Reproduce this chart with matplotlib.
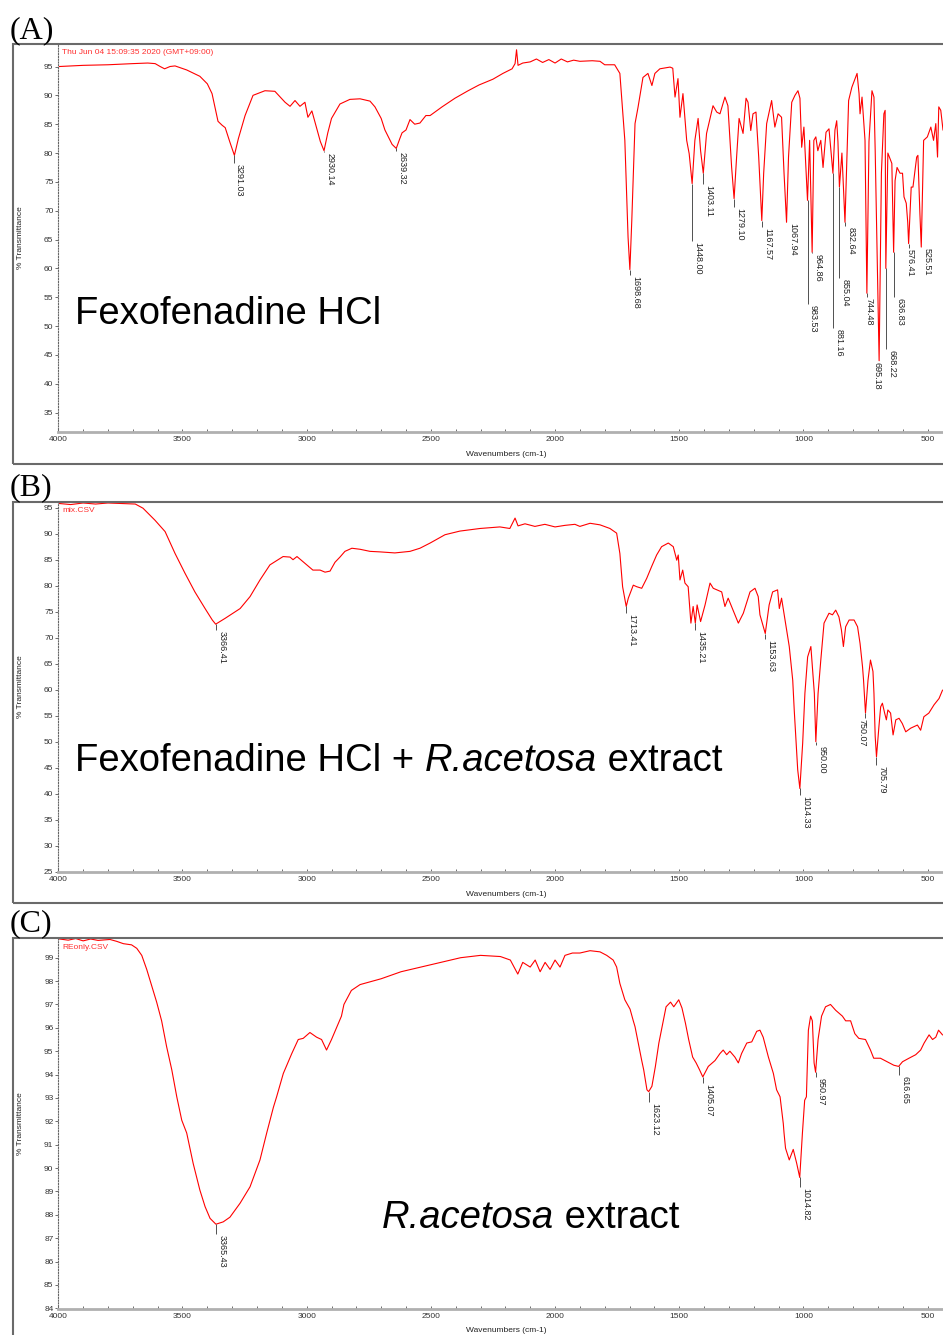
import matplotlib.pyplot as plt
from matplotlib.patches import Rectangle

plt.rcParams['font.family'] = ['Liberation Sans', 'DejaVu Sans']

# ---------------- (A) Fexofenadine HCl ----------------
wn_a = [3995, 3900, 3800, 3700, 3640, 3610, 3590, 3572, 3550, 3530,
        3483, 3430, 3400, 3381, 3357, 3340, 3328, 3310, 3291.03, 3275,
        3248, 3216, 3168, 3128, 3087, 3067, 3047, 3027, 3007, 2995,
        2979, 2963, 2945, 2930.14, 2915, 2900, 2866, 2826, 2785, 2745,
        2725, 2700, 2685, 2656, 2639.32, 2625, 2616, 2600, 2584, 2565,
        2544, 2520, 2503, 2455, 2403, 2350, 2306, 2250, 2210, 2173,
        2161, 2155, 2149, 2130, 2100, 2075, 2050, 2025, 2000, 1975,
        1950, 1925, 1900, 1850, 1819, 1800, 1760, 1739, 1719, 1706,
        1698.68, 1691, 1678, 1666, 1646, 1626, 1610, 1598, 1578, 1537,
        1526, 1517, 1505, 1497, 1485, 1470, 1460, 1448.00, 1437, 1424,
        1414, 1403.11, 1390, 1364, 1349, 1336, 1316, 1304, 1289, 1279.10,
        1269, 1259, 1243, 1231, 1223, 1212, 1203, 1191, 1180, 1167.57,
        1160, 1148, 1128, 1115, 1102, 1088, 1078, 1067.94, 1060, 1047,
        1034, 1022, 1014, 1007, 998, 983.53, 975, 964.86, 958, 950,
        942, 930, 921, 909, 897, 881.16, 873, 866, 861, 855.04,
        845, 832.64, 818, 805, 784, 776, 772, 764, 752, 744.48,
        736, 724, 716, 711, 695.18, 686, 676, 671, 668.22, 660,
        644, 636.83, 631, 623, 611, 601, 595, 586, 580, 576.41,
        566, 559, 544, 539, 531, 525.51, 516, 501, 487, 476,
        467, 460, 455, 447, 438]
t_a = [95.0, 95.2, 95.3, 95.5, 95.6, 95.5, 95.0, 94.6, 95.0, 95.1,
       94.4, 93.3, 92.0, 90.3, 85.5, 84.8, 84.4, 82.0, 79.6, 82.5,
       86.5, 90.0, 90.8, 90.7, 88.8, 88.1, 89.1, 88.1, 88.8, 86.2,
       87.3, 84.8, 82.0, 80.4, 83.5, 86.0, 88.5, 89.3, 89.4, 89.0,
       88.0, 86.0, 84.0, 81.5, 80.8, 82.5, 83.5, 84.0, 85.8, 85.0,
       85.2, 86.5, 86.5, 88.0, 89.5, 90.8, 91.8, 92.8, 93.8, 94.6,
       95.5, 97.9, 95.2, 95.6, 95.8, 96.3, 95.7, 96.2, 95.6, 96.3,
       95.8, 96.1, 95.9, 96.0, 95.9, 95.3, 95.3, 93.8, 82.2, 65.4,
       59.8, 68.3, 85.1, 87.9, 93.1, 93.8, 91.7, 93.8, 94.6, 94.9,
       94.7, 89.7, 92.9, 86.2, 90.3, 82.2, 79.9, 74.7, 82.2, 86.0,
       80.4, 76.5, 83.4, 88.2, 87.1, 86.8, 89.7, 88.2, 77.5, 72.1,
       79.3, 86.0, 83.4, 89.5, 88.8, 83.9, 86.8, 87.1, 79.3, 68.3,
       76.5, 85.1, 89.1, 84.5, 86.8, 86.2, 76.5, 68.0, 79.3, 88.8,
       90.0, 90.8, 89.5, 81.0, 84.5, 71.8, 82.2, 62.8, 82.2, 82.8,
       80.4, 82.2, 77.5, 83.6, 84.2, 76.5, 84.0, 85.6, 82.0, 74.1,
       80.0, 68.0, 89.1, 91.4, 93.8, 90.3, 86.8, 89.7, 82.2, 55.7,
       82.0, 90.8, 89.7, 80.4, 44.0, 76.5, 86.8, 87.4, 60.0, 80.0,
       78.2, 62.8, 75.2, 77.5, 76.5, 76.5, 72.4, 71.3, 68.0, 64.3,
       74.1, 74.1, 79.3, 79.6, 69.5, 63.7, 82.2, 82.8, 84.5, 82.2,
       85.1, 79.3, 88.0, 87.4, 84.0]
peaks_a = [3291.03, 2930.14, 2639.32, 1698.68, 1448.00, 1403.11, 1279.10,
           1167.57, 1067.94, 983.53, 964.86, 881.16, 855.04, 832.64,
           744.48, 695.18, 668.22, 636.83, 576.41, 525.51]
tip_a = [79.6, 80.4, 80.8, 59.8, 74.7, 76.5, 72.1, 68.3, 68.0, 71.8,
         62.8, 76.5, 74.1, 68.0, 55.7, 44.0, 60.0, 62.8, 64.3, 63.7]
labtop_a = [78.2, 80.1, 80.4, 58.8, 64.8, 74.7, 70.6, 67.1, 68.7, 53.75,
            62.6, 49.6, 58.4, 67.4, 55.0, 44.6, 46.1, 55.0, 63.6, 64.5]

# ---------------- (B) mixture ----------------
wn_b = [3995, 3950, 3900, 3850, 3800, 3750, 3690, 3659, 3611, 3570,
        3530, 3490, 3450, 3409, 3380, 3366.41, 3329, 3268, 3228, 3188,
        3148, 3095, 3067, 3055, 3039, 3007, 2975, 2946, 2926, 2906,
        2886, 2866, 2846, 2818, 2785, 2745, 2705, 2645, 2584, 2544,
        2503, 2443, 2383, 2302, 2222, 2182, 2161, 2149, 2121, 2081,
        2041, 2000, 1960, 1920, 1900, 1859, 1819, 1779, 1752, 1739,
        1728, 1713.41, 1705, 1685, 1671, 1651, 1631, 1611, 1591, 1571,
        1544, 1524, 1510, 1504, 1497, 1486, 1477, 1464, 1453, 1444,
        1435.21, 1428, 1414, 1396, 1376, 1363, 1329, 1316, 1303, 1262,
        1242, 1215, 1195, 1182, 1175, 1153.63, 1138, 1124, 1104, 1097,
        1088, 1074, 1057, 1043, 1037, 1023, 1014.33, 1003, 994, 983,
        970, 956, 950.00, 941, 930, 917, 897, 883, 870, 857,
        847, 839, 830, 816, 796, 782, 772, 762, 758, 750.07,
        740, 730, 720, 716, 711, 705.79, 696, 689, 682, 673,
        666, 660, 649, 639, 628, 615, 602, 588, 568, 541,
        528, 515, 495, 474, 454, 440]
t_b = [95.8, 95.6, 95.9, 95.7, 95.9, 95.8, 95.7, 94.9, 92.6, 90.4,
       86.2, 82.4, 78.8, 75.6, 73.4, 72.6, 73.7, 75.6, 77.9, 81.1,
       84.0, 85.6, 85.5, 85.0, 85.6, 84.3, 83.0, 83.0, 82.6, 82.8,
       84.5, 85.5, 86.6, 87.2, 87.0, 86.6, 86.5, 86.3, 86.6, 87.2,
       88.2, 89.8, 90.5, 91.0, 91.3, 91.0, 93.0, 91.5, 91.9, 91.4,
       91.8, 91.3, 91.6, 91.8, 91.4, 92.0, 91.7, 91.0, 90.1, 86.2,
       79.8, 76.0, 77.6, 80.1, 79.8, 79.5, 81.4, 83.7, 85.9, 87.5,
       88.2, 87.5, 84.9, 85.9, 81.1, 83.0, 80.5, 79.8, 72.8, 76.0,
       72.8, 76.3, 73.1, 76.3, 80.5, 79.5, 78.8, 76.0, 77.6, 72.8,
       74.7, 78.8, 79.5, 77.9, 74.4, 70.8, 76.3, 78.8, 79.2, 75.6,
       77.6, 73.4, 68.3, 61.8, 56.1, 44.6, 41.0, 49.7, 59.3, 66.3,
       68.3, 59.3, 50.0, 59.3, 65.7, 72.8, 74.7, 74.4, 75.3, 74.0,
       71.5, 68.3, 72.1, 73.4, 73.4, 72.1, 68.9, 64.4, 61.9, 55.5,
       61.8, 65.7, 63.5, 59.3, 51.0, 47.1, 52.9, 56.7, 57.4, 55.5,
       54.2, 56.1, 55.5, 51.3, 54.2, 54.5, 53.5, 51.9, 52.6, 53.2,
       52.2, 54.8, 55.5, 57.1, 58.3, 59.9]
peaks_b = [3366.41, 1713.41, 1435.21, 1153.63, 1014.33, 950.00, 750.07, 705.79]
tip_b = [72.6, 76.0, 72.8, 70.8, 41.0, 50.0, 55.5, 47.1]
labtop_b = [71.5, 74.75, 71.5, 69.75, 39.75, 49.35, 54.6, 45.5]

# ---------------- (C) R. acetosa extract ----------------
wn_c = [3995, 3960, 3930, 3900, 3870, 3840, 3792, 3765, 3738, 3705,
        3684, 3664, 3644, 3624, 3604, 3584, 3564, 3543, 3523, 3503,
        3483, 3457, 3430, 3409, 3389, 3365.43, 3336, 3309, 3268, 3228,
        3188, 3161, 3134, 3121, 3094, 3060, 3034, 3014, 2987, 2960,
        2940, 2920, 2900, 2860, 2850, 2820, 2785, 2700, 2620, 2540,
        2460, 2380, 2300, 2220, 2180, 2150, 2130, 2100, 2080, 2060,
        2040, 2020, 2000, 1980, 1960, 1930, 1900, 1859, 1819, 1792,
        1766, 1752, 1739, 1719, 1698, 1685, 1678, 1665, 1651, 1643,
        1630, 1623.12, 1610, 1596, 1582, 1569, 1553, 1535, 1522, 1502,
        1489, 1475, 1462, 1446, 1432, 1418, 1405.07, 1383, 1356, 1336,
        1323, 1309, 1296, 1276, 1262, 1249, 1228, 1208, 1188, 1175,
        1162, 1141, 1121, 1108, 1094, 1081, 1078, 1072, 1057, 1041,
        1027, 1014.82, 1004, 995, 988, 980, 971, 964, 957, 950.97,
        941, 927, 911, 891, 870, 843, 830, 810, 793, 777,
        750, 730, 717, 690, 663, 636, 616.65, 601, 575, 548,
        528, 514, 494, 480, 467, 456, 440]
t_c = [99.8, 99.75, 99.82, 99.72, 99.8, 99.74, 99.78, 99.7, 99.6, 99.55,
       99.4, 99.1, 98.5, 97.8, 97.1, 96.3, 95.2, 94.2, 93.05, 92.05,
       91.5, 90.2, 89.06, 88.35, 87.85, 87.6, 87.7, 87.9, 88.5, 89.2,
       90.35, 91.5, 92.6, 93.05, 94.05, 94.9, 95.5, 95.55, 95.8, 95.6,
       95.5, 95.05, 95.5, 96.5, 97.0, 97.6, 97.85, 98.1, 98.4, 98.6,
       98.8, 99.0, 99.1, 99.05, 98.9, 98.3, 98.8, 98.6, 98.9, 98.4,
       98.8, 98.5, 98.9, 98.6, 99.1, 99.2, 99.2, 99.3, 99.25, 99.1,
       98.9, 98.6, 97.9, 97.2, 96.8, 96.3, 96.05, 95.35, 94.6, 94.2,
       93.35, 93.27, 93.5, 94.35, 95.35, 96.05, 96.9, 97.1, 96.9, 97.2,
       96.85, 96.2, 95.5, 94.75, 94.5, 94.2, 93.9, 94.35, 94.6, 94.9,
       95.05, 94.85, 95.0, 94.75, 94.5, 94.9, 95.35, 95.4, 95.85, 95.9,
       95.6, 94.75, 94.05, 93.35, 93.05, 91.9, 91.5, 90.85, 90.35, 90.8,
       90.2, 89.6, 91.5, 92.9, 93.05, 95.9, 96.5, 96.3, 94.5, 94.1,
       95.5, 96.5, 96.9, 97.0, 96.75, 96.5, 96.3, 96.3, 95.75, 95.55,
       95.5, 95.05, 94.7, 94.7, 94.55, 94.4, 94.35, 94.55, 94.7, 94.85,
       95.05, 95.35, 95.7, 95.5, 95.6, 95.9, 95.7]
peaks_c = [3365.43, 1623.12, 1405.07, 1014.82, 950.97, 616.65]
tip_c = [87.6, 93.27, 93.9, 89.6, 94.1, 94.35]
labtop_c = [87.2, 92.83, 93.64, 89.2, 93.9, 94.0]

# horizontal shift (pixels) of a few peak labels relative to their leader
label_dx = {744.48: 2, 695.18: -2, 576.41: 2, 750.07: -3, 3291.03: 5}

W, H = 943, 1335
fig = plt.figure(figsize=(W / 100, H / 100), dpi=100)
renderer = fig.canvas.get_renderer()


def fy(y):
    return 1 - y / H


def panel(letter, letter_y, top, axis_bottom, frame_bottom, ylim, yticks,
          wn, t, peaks, tips, labtops, fname, xlabel_y):
    fig.add_artist(Rectangle((12.5 / W, fy(frame_bottom)), 1.0, (frame_bottom - top) / H,
                             transform=fig.transFigure, fill=False,
                             ec='#6a6a6a', lw=1.5))
    fig.text(10 / W, fy(letter_y), letter, family=['Liberation Serif', 'DejaVu Serif'],
             fontsize=23, va='baseline', ha='left')

    ax = fig.add_axes([58.3 / W, fy(axis_bottom), (W - 58.3) / W, (axis_bottom - top) / H])
    ax.plot(wn, t, color='#ff0000', lw=0.8)
    for p, tp, lt in zip(peaks, tips, labtops):
        if tp > lt:
            ax.vlines(p, lt, tp, color='#505050', lw=0.7)
        ax.annotate(f'{p:.2f}', (p, min(tp, lt)), xytext=(label_dx.get(p, 6), -1),
                    textcoords='offset pixels', rotation=270, ha='center', va='top',
                    fontsize=6.5, color='#222222')

    ax.set_xlim(4000, 438)
    ax.set_ylim(*ylim)
    ax.set_xticks(range(500, 4001, 500))
    ax.set_xticks(range(500, 4001, 100), minor=True)
    ax.set_yticks(yticks)
    ax.spines['top'].set_visible(False)
    ax.spines['right'].set_visible(False)
    ax.spines['left'].set_linestyle((0, (1, 1.5)))
    ax.spines['left'].set_color('#666666')
    ax.spines['left'].set_linewidth(0.8)
    ax.spines['bottom'].set_color('#b0b0b0')
    ax.spines['bottom'].set_linewidth(2)
    ax.tick_params(axis='x', which='both', direction='in', length=2.5, width=0.6,
                   color='#555555', labelsize=6, labelcolor='#333333', pad=3)
    ax.tick_params(axis='y', direction='out', length=2, width=0.6,
                   color='#555555', labelsize=6, labelcolor='#333333', pad=1.5)
    ax.patch.set_alpha(0)

    fig.text(62 / W, fy(top + 9), fname, color='#ff3030', fontsize=6, va='center', ha='left')
    fig.text(506 / W, fy(xlabel_y), 'Wavenumbers (cm-1)', fontsize=6, color='#222222',
             ha='center', va='center')
    fig.text(20 / W, fy((top + axis_bottom) / 2), '% Transmittance', fontsize=6,
             color='#222222', rotation=90, ha='center', va='center')
    return ax


def rich_text(x, y, parts):
    # draw pieces of one line one after another, some in italic
    for s, style in parts:
        t = fig.text(x / W, fy(y), s, fontsize=27.5, style=style, va='baseline', ha='left')
        x += t.get_window_extent(renderer).width


panel('(A)', 38.5, 44, 431.7, 464, (31.7, 98.9), range(35, 96, 5),
      wn_a, t_a, peaks_a, tip_a, labtop_a, 'Thu Jun 04 15:09:35 2020 (GMT+09:00)', 455)
panel('(B)', 495, 501.7, 872, 903.3, (24.94, 96.15), range(25, 96, 5),
      wn_b, t_b, peaks_b, tip_b, labtop_b, 'mix.CSV', 895)
panel('(C)', 931.7, 938.3, 1309.3, 1360, (83.96, 99.83), range(84, 100, 1),
      wn_c, t_c, peaks_c, tip_c, labtop_c, 'REonly.CSV', 1331)

rich_text(75, 324, [('Fexofenadine HCl', 'normal')])
rich_text(75, 771, [('Fexofenadine HCl + ', 'normal'), ('R.acetosa', 'italic'),
                    (' extract', 'normal')])
rich_text(382, 1228, [('R.acetosa', 'italic'), (' extract', 'normal')])

fig.savefig('out.png', dpi=100)
